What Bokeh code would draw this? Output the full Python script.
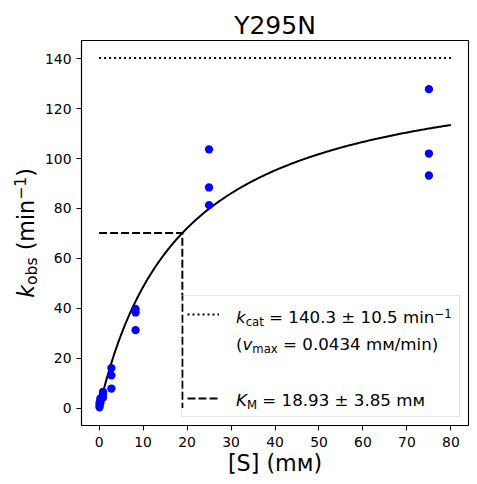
import numpy as np
from math import pi
from bokeh.plotting import figure
from bokeh.layouts import row
from bokeh.models import Label, Legend, LegendItem, FixedTicker, Range1d
from bokeh.core.properties import value
from bokeh.embed import file_html
from bokeh.resources import INLINE

# ---------------- data ----------------
title_text = "Y295N"
substrate_mM = [0.1, 0.1, 0.1, 0.3, 0.3, 0.3, 0.9, 0.9, 0.9,
                2.8, 2.8, 2.8, 8.3, 8.3, 8.3, 25, 25, 25, 75, 75, 75]
k_obs = [0.3, 1.0, 2.0, 2.0, 3.0, 3.8, 4.2, 5.5, 6.5,
         7.8, 13.1, 16.0, 31.2, 38.3, 39.7, 81.3, 88.4, 103.7, 93.2, 102.0, 127.8]
kcat = 140.3
kcat_err = 10.5
KM = 18.93
KM_err = 3.85
vmax = 0.0434
s_max = 80
x_ticks = [0, 10, 20, 30, 40, 50, 60, 70, 80]
y_ticks = [0, 20, 40, 60, 80, 100, 120, 140]
x_label = "[S] (mᴍ)"

# fitted Michaelis-Menten curve from the fitted parameters
fit_s = np.linspace(0, s_max, 300)
fit_k = kcat * fit_s / (KM + fit_s)

# ---------------- geometry ----------------
W_TOT, H_TOT = 477, 484
LAB_W = 41                          # strip holding the y-axis title
x_lo, x_hi = -0.05 * s_max, 1.05 * s_max
y_lo, y_hi = -0.05 * kcat, 1.05 * kcat
FL, FR, FT, FB = 81, 468, 40, 425   # frame edges in page pixels
MID = 0.346                         # middle of DejaVu em box above the baseline


def dx(px):
    return x_lo + (px - FL) * (x_hi - x_lo) / (FR - FL)


def dy(py):
    return y_lo + (FB - py) * (y_hi - y_lo) / (FB - FT)


p = figure(width=W_TOT - LAB_W, height=H_TOT, output_backend="svg", toolbar_location=None,
           x_range=Range1d(x_lo, x_hi), y_range=Range1d(y_lo, y_hi),
           min_border_left=FL - LAB_W, min_border_right=W_TOT - FR,
           min_border_top=FT, min_border_bottom=H_TOT - FB)
p.background_fill_color = "white"
p.border_fill_color = "white"
p.outline_line_color = "black"
p.outline_line_width = 1.1
p.xgrid.visible = False
p.ygrid.visible = False

p.title.text = title_text
p.title.text_font = "DejaVu Sans"
p.title.text_font_size = "25px"
p.title.text_font_style = "normal"
p.title.text_color = "black"
p.title.align = "center"
p.title.standoff = 2

for ax, ticks in ((p.xaxis, x_ticks), (p.yaxis, y_ticks)):
    ax.ticker = FixedTicker(ticks=ticks)
    ax.major_tick_out = 5
    ax.major_tick_in = 0
    ax.minor_tick_out = 0
    ax.minor_tick_in = 0
    ax.axis_line_color = "black"
    ax.axis_line_width = 1.1
    ax.major_tick_line_width = 1.1
    ax.major_tick_line_color = "black"
    ax.major_label_text_font = "DejaVu Sans"
    ax.major_label_text_font_size = "13.9px"
    ax.major_label_text_color = "black"
p.xaxis.major_label_standoff = 6
p.yaxis.major_label_standoff = 5

p.xaxis.axis_label = x_label
p.xaxis.axis_label_text_font = "DejaVu Sans"
p.xaxis.axis_label_text_font_size = "22.2px"
p.xaxis.axis_label_text_font_style = "normal"
p.xaxis.axis_label_text_color = "black"
p.xaxis.axis_label_standoff = 0

# ---------------- marks ----------------
r_kcat = p.line([0, s_max], [kcat, kcat], line_color="black", line_width=2, line_dash="2 3")
r_km = p.line([0, KM, KM], [kcat / 2, kcat / 2, 0], line_color="black", line_width=2,
              line_dash="8 3")
r_fit = p.line(fit_s, fit_k, line_color="black", line_width=2)
r_blank = p.line(x=[], y=[], line_alpha=0)
r_pts = p.scatter(substrate_mM, k_obs, size=8.3, fill_color="#0000ff", line_color=None)

legend = Legend(items=[LegendItem(label=value(" "), renderers=[r_kcat]),
                       LegendItem(label=value(" "), renderers=[r_blank]),
                       LegendItem(label=value(" "), renderers=[r_blank]),
                       LegendItem(label=value(" "), renderers=[r_km])],
                location="bottom_right", margin=8, padding=5, spacing=2,
                label_height=26, label_width=221, glyph_height=20, glyph_width=32,
                label_standoff=14, label_text_font_size="6px",
                border_line_color="#cccccc", border_line_width=1,
                background_fill_color="white", background_fill_alpha=0.0)
p.add_layout(legend)

# ---------------- rich texts ----------------
W = {' ': 0.318, '=': 0.838, '±': 0.838, '.': 0.318, 'm': 0.974, 'i': 0.278, 'n': 0.634,
     'c': 0.550, 'a': 0.613, 't': 0.392, 'x': 0.592, 'o': 0.612, 'b': 0.635, 's': 0.521,
     '(': 0.390, ')': 0.390, '/': 0.337, '−': 0.838, 'k': 0.579, 'v': 0.592, 'K': 0.656,
     'M': 0.863}
for d in "0123456789":
    W[d] = 0.636


def width(t, size):
    return sum(W.get(ch, 0.7) for ch in t) * size


def make_label(x, y, text, size, italic, angle=0.0):
    return Label(x=x, y=y, text=text, angle=angle,
                 text_font="DejaVu Sans", text_font_size=f"{size}px",
                 text_font_style="italic" if italic else "normal",
                 text_color="black", text_align="left", text_baseline="middle")


def add_row(pieces, x0, base):
    cur = x0
    for text, size, italic, shift in pieces:
        lead = len(text) - len(text.lstrip(" "))
        cur += width(" " * lead, size)
        body = text.lstrip(" ")
        p.add_layout(make_label(dx(cur), dy(base - shift - MID * size), body, size, italic))
        cur += width(body, size)


L, LS = 16.67, 11.67
add_row([("k", L, True, 0), ("cat", LS, False, -2.7),
         (f" = {kcat} ± {kcat_err} min", L, False, 0), ("−1", LS, False, 6.4)], 235.5, 323)
add_row([("(", L, False, 0), ("v", L, True, 0), ("max", LS, False, -2.7),
         (f" = {vmax} mᴍ/min)", L, False, 0)], 235.5, 350)
add_row([("K", L, True, 0), ("M", LS, False, -2.7),
         (f" = {KM} ± {KM_err} mᴍ", L, False, 0)], 235.5, 406)

# ---------------- y-axis title strip ----------------
q = figure(width=LAB_W, height=H_TOT, output_backend="svg", toolbar_location=None,
           x_range=Range1d(0, LAB_W), y_range=Range1d(y_lo, y_hi), title=None,
           x_axis_location=None, y_axis_location=None,
           min_border_left=0, min_border_right=0, min_border_top=FT,
           min_border_bottom=H_TOT - FB)
q.outline_line_color = None
q.xgrid.visible = False
q.ygrid.visible = False
q.background_fill_color = "white"
q.border_fill_color = "white"

A, AS = 22.22, 15.56
ylab = [("k", A, True, 0), ("obs", AS, False, -3.65), ("(min", A, False, 0),
        ("−1", AS, False, 8.5), (")", A, False, 0)]
gap = width(" ", A)
total = sum(width(t, s) for t, s, _, _ in ylab) + gap
cur = (FT + FB) / 2 + total / 2
bx = 33.5
for i, (text, size, italic, shift) in enumerate(ylab):
    if i == 2:
        cur -= gap
    q.add_layout(make_label(bx - shift - MID * size, dy(cur), text, size, italic,
                            angle=pi / 2))
    cur -= width(text, size)

layout = row(q, p)
open("out.html", "w").write(file_html(layout, INLINE))
